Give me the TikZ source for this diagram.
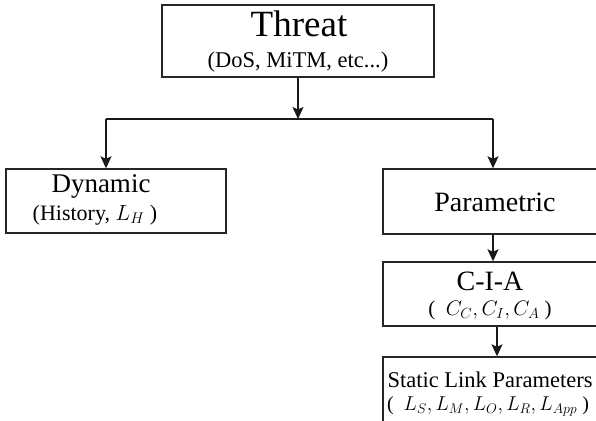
\RequirePackage{fix-cm}
\documentclass[tikz,border=0pt]{standalone}
\usepackage{fontspec}
\setmainfont{Liberation Serif}
\usetikzlibrary{arrows.meta}
\tikzset{
  box/.style={draw=black!85, line width=1.4pt, inner sep=0pt, fill=white},
  conn/.style={draw=black!90, line width=1.3pt},
  arr/.style={conn, -{Stealth[length=12pt,width=11pt,inset=2.5pt]}},
  txt/.style={anchor=base, inner sep=0pt},
}
\newcommand{\fs}[1]{\fontsize{#1}{#1}\selectfont}
\begin{document}
\begin{tikzpicture}[x=1pt,y=-1pt]
\useasboundingbox (0,0) rectangle (596,420);
% boxes
\node[box, minimum width=272pt, minimum height=72pt] (threat) at (298,41) {};
\node[box, minimum width=220pt, minimum height=64pt] (dyn) at (116,201) {};
\node[box, minimum width=214pt, minimum height=65pt] (param) at (490,201.5) {};
\node[box, minimum width=214pt, minimum height=64pt] (cia) at (490,294) {};
\node[box, minimum width=214pt, minimum height=68pt] (stat) at (490,391) {};
% texts
\node[txt] (t1) at (299,37) {\fs{37}Threat};
\node[txt] (t2) at (298,67) {\fs{22.5}(DoS, MiTM, etc...)};
\node[txt] (d1) at (101,192) {\fs{27}Dynamic};
\node[txt] (d2) at (95,220) {\fs{22}(History, $L_H$ )};
\node[txt] (p1) at (495,211) {\fs{28}Parametric};
\node[txt] (c1) at (490,290) {\fs{28}C-I-A};
\node[txt] (c2) at (490,315) {\fs{21}(\ \ $C_C, C_I, C_A$ )};
\node[txt] (s1) at (490,387) {\fs{22.5}Static Link Parameters};
\node[txt] (s2) at (488,410) {\fs{20}(\ \ $L_S, L_M, L_O, L_R, L_{App}$ )};
% connectors
\coordinate (jl) at (106,119);
\coordinate (jr) at (493,119);
\draw[conn] (jl) -- (jr);
\draw[arr] (threat.south) -- (threat.south |- jl);
\draw[arr] (jl) -- (jl |- dyn.north);
\draw[arr] (jr) -- (jr |- param.north);
\draw[arr] (jr |- param.south) -- (jr |- cia.north);
\draw[arr] ([xshift=7pt]cia.south) -- ([xshift=7pt]cia.south |- stat.north);
\end{tikzpicture}
\end{document}
